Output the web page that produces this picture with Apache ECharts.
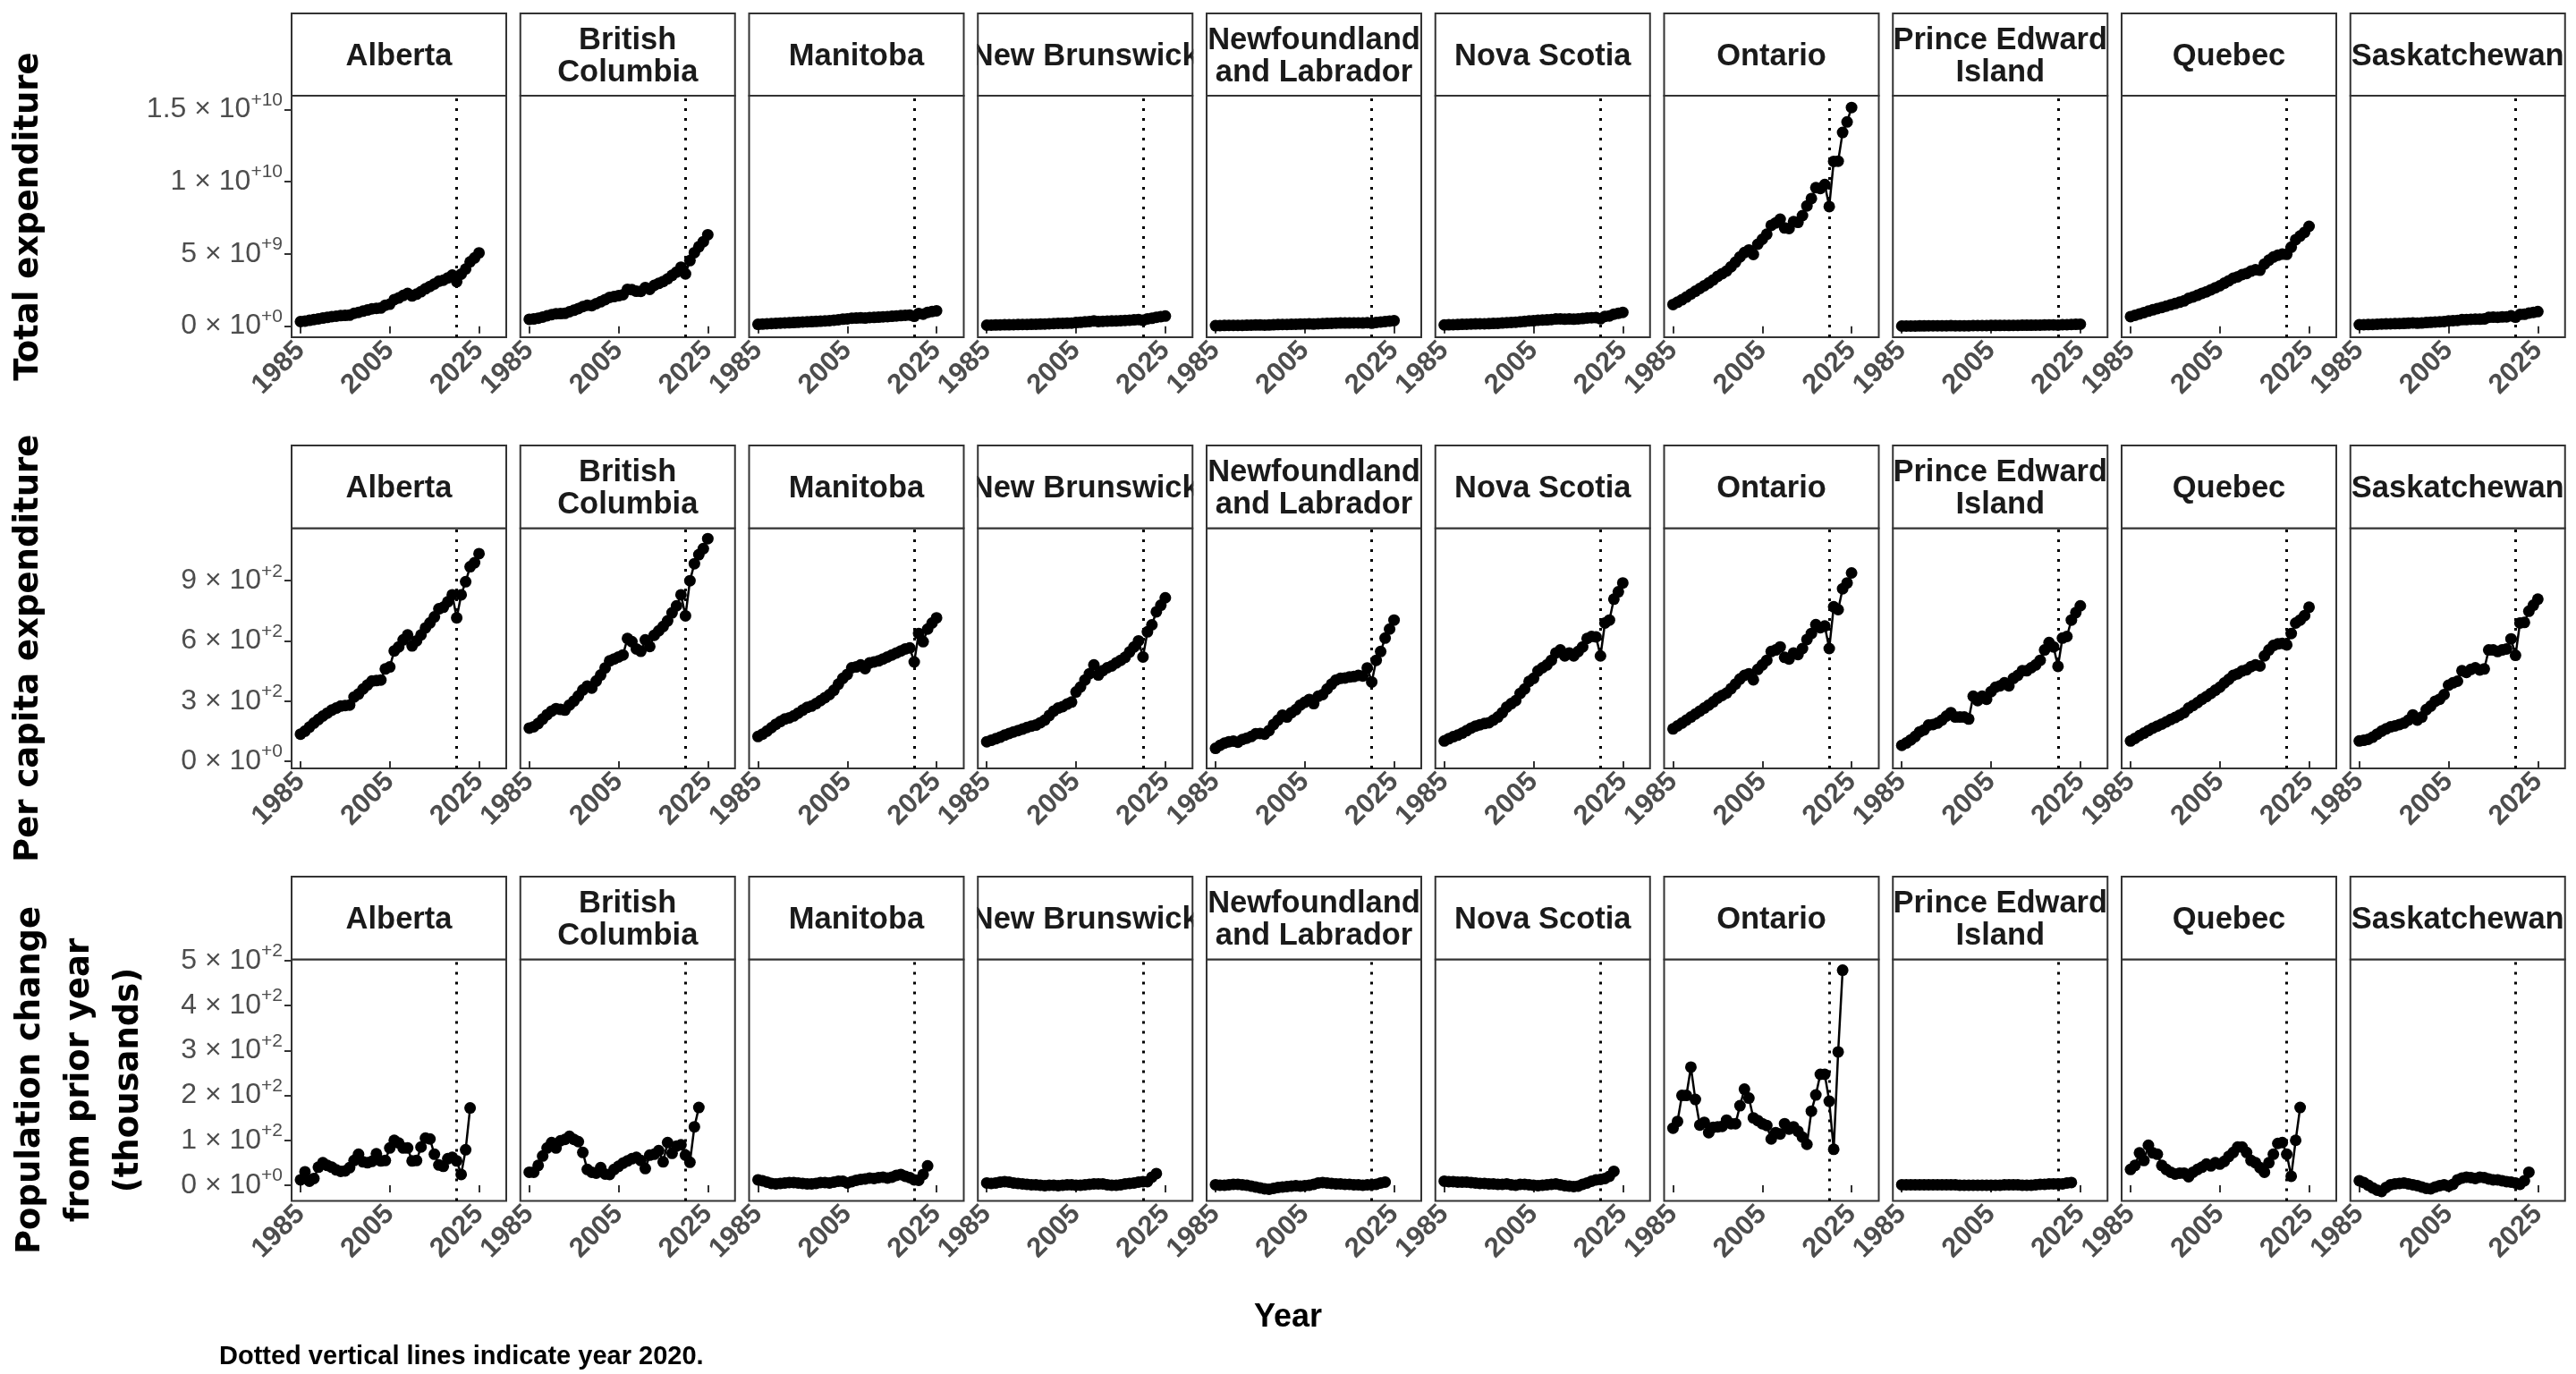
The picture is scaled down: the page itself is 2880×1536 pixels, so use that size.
<!DOCTYPE html>
<html><head><meta charset="utf-8">
<script src="https://cdn.jsdelivr.net/npm/echarts@6/dist/echarts.min.js"></script>
<style>html,body{margin:0;padding:0;background:#fff}#c{width:2880px;height:1536px}</style>
</head><body><div id="c"></div>
<script>
// ---------------- DATA ----------------
const provinces = ['Alberta','British\nColumbia','Manitoba','New Brunswick','Newfoundland\nand Labrador','Nova Scotia','Ontario','Prince Edward\nIsland','Quebec','Saskatchewan'];
const years = [1985,1986,1987,1988,1989,1990,1991,1992,1993,1994,1995,1996,1997,1998,1999,2000,2001,2002,2003,2004,2005,2006,2007,2008,2009,2010,2011,2012,2013,2014,2015,2016,2017,2018,2019,2020,2021,2022,2023,2024,2025];
const popYears = [1985,1986,1987,1988,1989,1990,1991,1992,1993,1994,1995,1996,1997,1998,1999,2000,2001,2002,2003,2004,2005,2006,2007,2008,2009,2010,2011,2012,2013,2014,2015,2016,2017,2018,2019,2020,2021,2022,2023];
const xTicks = [1985, 2005, 2025];
const markYear = 2020;

// Total expenditure (millions of dollars)
const totAB = [317,357,405,456,508,560,610,658,694,729,745,762,890,955,1044,1121,1200,1230,1260,1454,1523,1837,1955,2124,2262,2093,2220,2388,2587,2753,2923,3116,3180,3339,3536,3082,3602,3956,4452,4722,5072];
const totBC = [479,502,556,634,719,798,862,872,887,1000,1101,1219,1356,1448,1420,1564,1694,1841,1995,2050,2111,2178,2552,2527,2419,2406,2674,2551,2826,2958,3091,3276,3515,3743,4084,3618,4536,5092,5500,5851,6327];
const totMB = [130,144,162,181,201,216,230,238,250,266,288,304,314,329,347,365,383,411,447,483,511,552,559,576,559,598,609,625,643,660,684,707,732,756,774,683,879,834,956,1020,1065];
const totNB = [69,74,80,86,94,99,106,111,117,123,130,133,142,151,166,183,193,199,208,215,252,270,296,323,358,323,341,352,359,370,380,394,417,439,465,406,506,544,618,661,701];
const totNL = [37,46,52,56,58,55,63,67,71,79,79,76,84,99,110,122,116,126,134,146,151,157,146,165,173,187,202,213,219,220,223,224,227,223,244,205,262,287,325,356,384];
const totNS = [88,98,107,115,125,136,149,158,165,171,175,187,200,220,246,261,275,309,329,364,378,412,426,439,463,497,511,483,497,483,506,530,572,588,595,512,679,704,832,896,960];
const totON = [1497,1661,1832,2017,2222,2421,2608,2801,2993,3200,3449,3634,3815,4112,4428,4793,5093,5276,4969,5675,6014,6368,6980,7148,7404,6796,6763,7231,7187,7654,8322,8835,9582,9530,9807,8278,11404,11423,13407,14135,15137];
const totPE = [10,12,14,16,19,20,23,24,25,27,30,33,30,30,30,29,44,41,44,42,48,51,52,54,53,59,62,65,65,68,70,74,83,91,89,76,100,103,120,130,140];
const totQC = [662,751,851,941,1040,1135,1218,1299,1388,1483,1565,1661,1755,1927,2027,2137,2274,2383,2518,2659,2793,2976,3138,3321,3418,3569,3653,3814,3902,3876,4300,4568,4789,4908,4986,4971,5465,5987,6244,6498,6912];
const totSK = [102,106,111,121,135,149,159,169,174,182,189,205,231,205,219,254,270,293,303,325,371,383,395,451,450,472,485,482,497,611,622,618,638,650,714,623,813,823,905,957,1010];

// Per capita expenditure (dollars)
const pcAB = [135,150,170,190,208,225,240,255,265,275,278,280,320,335,360,380,400,402,405,460,470,550,570,605,630,575,600,630,665,690,720,760,768,795,830,715,830,895,970,990,1035];
const pcBC = [165,172,188,210,232,250,262,258,255,280,300,325,355,375,365,400,430,465,500,510,520,530,612,596,560,548,605,572,628,650,672,700,740,775,830,725,900,985,1030,1060,1110];
const pcMB = [123,135,150,167,184,198,210,216,226,240,255,268,275,287,302,317,332,354,384,413,433,466,470,480,462,490,495,500,510,520,530,540,550,560,565,495,637,596,659,689,715];
const pcNB = [97,104,112,120,130,138,146,153,160,168,175,180,192,205,228,250,265,272,285,295,345,370,405,436,480,430,452,466,475,490,503,518,545,570,600,520,645,680,745,778,815];
const pcNL = [64,79,90,97,100,95,108,115,123,137,138,135,153,183,205,230,220,242,257,280,294,308,287,324,332,360,384,405,413,415,420,422,428,425,465,395,503,547,614,659,704];
const pcNS = [101,112,122,130,140,152,165,175,182,188,192,205,220,242,270,287,302,338,360,398,413,450,466,480,503,540,555,525,540,525,547,570,612,622,620,525,689,704,808,845,889];
const pcON = [161,176,190,205,220,235,250,265,280,296,315,328,340,362,385,410,428,436,406,458,480,503,547,555,570,518,510,540,532,562,607,637,681,666,674,562,770,756,860,889,939];
const pcPE = [79,91,106,123,146,156,180,183,190,205,225,242,220,220,220,210,324,302,324,309,347,369,376,391,376,413,428,451,451,466,480,503,555,592,570,473,614,622,704,741,775];
const pcQC = [101,114,128,140,153,165,175,185,196,208,218,230,242,265,278,292,309,322,338,354,369,390,408,428,436,450,456,472,480,475,525,555,577,585,588,580,637,689,704,726,768];
const pcSK = [101,104,109,120,135,150,161,171,176,183,190,205,231,205,220,257,275,299,309,332,379,391,399,451,443,458,466,455,460,555,555,547,555,560,610,528,689,692,748,778,808];

// Population change from prior year (thousands)
const popAB = [12,30,9,15,40,50,44,40,34,31,32,39,55,69,52,50,53,70,54,55,83,100,94,83,83,54,55,85,105,103,69,45,42,59,62,54,24,79,172];
const popBC = [29,29,44,65,83,95,83,99,102,109,102,97,73,35,29,27,39,25,24,35,42,49,54,59,62,55,37,67,69,77,52,95,71,87,90,67,51,130,173];
const popMB = [12,10,7,4,3,4,5,6,6,5,4,3,3,4,6,6,5,7,9,9,5,8,11,13,14,16,15,17,18,16,18,22,24,20,17,12,11,24,43];
const popNB = [5,4,5,7,8,7,5,4,3,2,1,1,0,-1,0,0,-1,0,1,1,0,0,1,2,3,3,3,1,0,0,1,3,4,5,7,8,8,18,26];
const popNL = [1,0,0,1,2,2,1,0,-2,-4,-6,-8,-9,-7,-5,-4,-3,-2,-1,-2,-1,0,2,5,6,5,4,3,3,2,2,1,1,0,1,1,2,5,7];
const popNS = [9,8,8,7,7,7,6,5,4,4,3,3,2,2,3,1,0,2,2,1,0,-1,0,1,2,3,1,-1,-2,-3,-2,2,5,9,12,13,15,20,31];
const popON = [127,142,200,200,263,191,134,140,117,129,130,131,145,137,137,177,214,194,150,144,137,133,103,117,114,137,125,130,120,107,91,165,201,247,247,187,80,297,479];
const popPE = [1,1,1,1,1,1,1,1,1,1,1,1,1,0,0,0,0,0,0,0,0,0,0,1,1,1,1,0,0,0,1,2,2,3,3,3,3,5,6];
const popQC = [35,44,72,55,89,72,69,44,35,29,25,27,27,19,29,35,40,47,43,50,47,53,64,73,85,85,73,55,50,39,29,50,69,93,95,69,20,100,173];
const popSK = [10,6,0,-6,-11,-14,-5,1,3,4,5,3,1,-1,-4,-7,-8,-4,-1,1,-2,2,12,16,18,17,15,18,17,14,12,12,10,8,7,5,2,10,29];

// Row titles and y tick labels
const rowTitles = ['Total expenditure', 'Per capita expenditure', 'Population change\nfrom prior year\n(thousands)'];
const row1Ticks = [0, 5000, 10000, 15000];            // millions
const row1TickMant = ['0', '5', '1', '1.5'];
const row1TickExp = ['+0', '+9', '+10', '+10'];
const row2Ticks = [0, 300, 600, 900];
const row2TickMant = ['0', '3', '6', '9'];
const row2TickExp = ['+0', '+2', '+2', '+2'];
const row3Ticks = [0, 100, 200, 300, 400, 500];
const row3TickMant = ['0', '1', '2', '3', '4', '5'];
const row3TickExp = ['+0', '+2', '+2', '+2', '+2', '+2'];
const caption = 'Dotted vertical lines indicate year 2020.';
const xTitle = 'Year';

// ---------------- LAYOUT ----------------
const totals = [totAB,totBC,totMB,totNB,totNL,totNS,totON,totPE,totQC,totSK];
const percap = [pcAB,pcBC,pcMB,pcNB,pcNL,pcNS,pcON,pcPE,pcQC,pcSK];
const popch  = [popAB,popBC,popMB,popNB,popNL,popNS,popON,popPE,popQC,popSK];

const rows = [
  {data: totals, xs: years, min: -765, max: 15950, ticks: row1Ticks, mant: row1TickMant, exp: row1TickExp, stripTop: 15, plotTop: 107, plotH: 270},
  {data: percap, xs: years, min: -36, max: 1162, ticks: row2Ticks, mant: row2TickMant, exp: row2TickExp, stripTop: 498, plotTop: 590.5, plotH: 268.5},
  {data: popch, xs: popYears, min: -35, max: 503, ticks: row3Ticks, mant: row3TickMant, exp: row3TickExp, stripTop: 980, plotTop: 1072.5, plotH: 270}
];
const colLeft0 = 326, colPitch = 255.75, panelW = 240;
const FONT = '"Liberation Sans", Arial, sans-serif';

const grids = [], xAxes = [], yAxes = [], series = [], graphics = [];
rows.forEach((row, r) => {
  for (let c = 0; c < 10; c++) {
    const k = r * 10 + c;
    const left = colLeft0 + c * colPitch;
    grids.push({left: left, top: row.plotTop, width: panelW, height: row.plotH,
      show: true, borderColor: '#333', borderWidth: 2, backgroundColor: '#fff', containLabel: false});
    xAxes.push({type: 'value', gridIndex: k, min: 1983, max: 2031.1,
      axisLine: {show: false}, splitLine: {show: false},
      axisTick: {show: true, customValues: xTicks, length: 8, lineStyle: {color: '#333', width: 2}},
      axisLabel: {show: true, customValues: xTicks, rotate: 45, margin: 10, color: '#4d4d4d',
        fontWeight: 'bold', fontSize: 31, fontFamily: FONT, formatter: v => String(v)}});
    const first = c === 0;
    yAxes.push({type: 'value', gridIndex: k, min: row.min, max: row.max,
      axisLine: {show: false}, splitLine: {show: false},
      axisTick: {show: first, customValues: row.ticks, length: 8, lineStyle: {color: '#333', width: 2}},
      axisLabel: {show: first, customValues: row.ticks, margin: 10,
        formatter: v => { const i = row.ticks.indexOf(v); return '{b|' + row.mant[i] + ' × 10}{s|' + row.exp[i] + '}'; },
        rich: {
          b: {fontSize: 32, fontFamily: FONT, color: '#4d4d4d', lineHeight: 42},
          s: {fontSize: 21, fontFamily: FONT, color: '#4d4d4d', lineHeight: 21, verticalAlign: 'top'}
        }}});
    const vals = row.data[c];
    series.push({type: 'line', xAxisIndex: k, yAxisIndex: k,
      data: row.xs.map((y, i) => [y, vals[i]]),
      symbol: 'circle', symbolSize: 13, showSymbol: true,
      lineStyle: {color: '#000', width: 2.5}, itemStyle: {color: '#000'},
      animation: false, silent: true,
      markLine: {silent: true, symbol: ['none', 'none'], label: {show: false}, animation: false,
        lineStyle: {color: '#000', type: [3, 8], width: 3}, data: [{xAxis: markYear}]}});
    // strip background + text
    graphics.push({type: 'rect', shape: {x: left, y: row.stripTop, width: panelW, height: row.plotTop - row.stripTop},
      style: {fill: '#fff'}, z: 10});
    graphics.push({type: 'text', x: left + panelW / 2, y: row.stripTop + 48.5, z: 11,
      style: {text: provinces[c], align: 'center', verticalAlign: 'middle', fill: '#1a1a1a',
        font: 'bold 34.5px ' + FONT, lineHeight: 36}});
    // mask text overflow into the gaps between neighbouring strips
    if (c < 9) {
      graphics.push({type: 'rect', shape: {x: left + panelW + 1, y: row.stripTop - 3, width: colPitch - panelW - 2, height: row.plotTop - row.stripTop + 2},
        style: {fill: '#fff'}, z: 12});
    }
    // strip border
    graphics.push({type: 'rect', shape: {x: left, y: row.stripTop, width: panelW, height: row.plotTop - row.stripTop},
      style: {fill: null, stroke: '#333', lineWidth: 2}, z: 13});
  }
  // row title
  graphics.push({type: 'text', x: r === 2 ? 89 : 32, y: row.plotTop + row.plotH / 2, rotation: Math.PI / 2, z: 11,
    style: {text: rowTitles[r], align: 'center', verticalAlign: 'middle', fill: '#000',
      font: 'bold 37px "DejaVu Sans", sans-serif', lineHeight: 55}});
});
graphics.push({type: 'text', x: 1440, y: 1473, style: {text: xTitle, align: 'center', verticalAlign: 'middle', fill: '#000', font: 'bold 36px ' + FONT}});
graphics.push({type: 'text', x: 245, y: 1517, style: {text: caption, align: 'left', verticalAlign: 'middle', fill: '#000', font: 'bold 29px ' + FONT}});

const chart = echarts.init(document.getElementById('c'), null, {renderer: 'canvas', width: 2880, height: 1536});
chart.setOption({backgroundColor: '#fff', animation: false, grid: grids, xAxis: xAxes, yAxis: yAxes, series: series, graphic: graphics});
</script></body></html>
